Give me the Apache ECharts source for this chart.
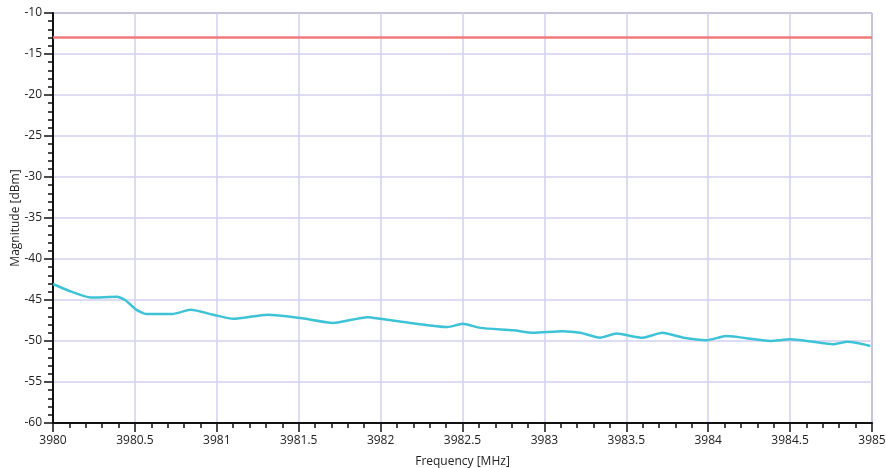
<!DOCTYPE html>
<html><head><meta charset="utf-8">
<script src="https://cdn.jsdelivr.net/npm/echarts@6/dist/echarts.min.js"></script>
<style>html,body{margin:0;padding:0;background:#fff}#c{width:886px;height:468px}</style>
</head><body><div id="c"></div>
<script>
const freqs = [3980.00,3980.10,3980.23,3980.39,3980.44,3980.51,3980.57,3980.73,3980.84,3980.98,3981.10,3981.31,3981.51,3981.71,3981.92,3982.00,3982.18,3982.41,3982.50,3982.61,3982.81,3982.93,3983.11,3983.22,3983.34,3983.44,3983.60,3983.72,3983.85,3983.99,3984.11,3984.38,3984.50,3984.64,3984.76,3984.85,3984.99];
const mags = [-43.05,-43.9,-44.7,-44.6,-45.0,-46.2,-46.7,-46.7,-46.2,-46.8,-47.3,-46.8,-47.2,-47.8,-47.1,-47.3,-47.8,-48.3,-47.9,-48.4,-48.7,-49.0,-48.8,-49.0,-49.6,-49.1,-49.6,-49.0,-49.6,-49.9,-49.4,-50.0,-49.8,-50.1,-50.4,-50.1,-50.6];
const limitFreqs = [3980, 3985];
const limitMags = [-13, -13];
const xTicks = {min: 3980, max: 3985, step: 0.5};
const yTicks = {min: -60, max: -10, step: 5};

const chart = echarts.init(document.getElementById('c'));
const font = 'Open Sans';
chart.setOption({
  animation: false,
  grid: {left: 53, right: 14, top: 13, bottom: 45, show: true, borderColor: '#444', borderWidth: 1,
         containLabel: false, outerBoundsMode: 'none'},
  xAxis: {
    type: 'value', min: xTicks.min, max: xTicks.max, interval: xTicks.step,
    name: 'Frequency [MHz]', nameLocation: 'middle', nameGap: 33, nameMoveOverlap: false,
    nameTextStyle: {fontFamily: font, fontSize: 12, color: '#222'},
    axisLine: {onZero: false, lineStyle: {color: '#111', width: 2}},
    axisTick: {inside: false, length: 9, lineStyle: {color: '#111', width: 1.5}},
    minorTick: {show: true, splitNumber: 5, length: 5, lineStyle: {color: '#111', width: 1.5}},
    axisLabel: {fontFamily: font, fontSize: 12, color: '#222', margin: 12,
      formatter: v => String(Math.round(v*10)/10)},
    splitLine: {show: true, lineStyle: {color: '#d2d0f0', width: 1.5}}
  },
  yAxis: {
    type: 'value', min: yTicks.min, max: yTicks.max, interval: yTicks.step,
    name: 'Magnitude [dBm]', nameLocation: 'middle', nameGap: 31, nameMoveOverlap: false,
    nameTextStyle: {fontFamily: font, fontSize: 12, color: '#222'},
    axisLine: {onZero: false, lineStyle: {color: '#111', width: 2}},
    axisTick: {inside: false, length: 9, lineStyle: {color: '#111', width: 1.5}},
    minorTick: {show: true, splitNumber: 5, length: 5, lineStyle: {color: '#111', width: 1.5}},
    axisLabel: {fontFamily: font, fontSize: 12, color: '#222', margin: 11},
    splitLine: {show: true, lineStyle: {color: '#d2d0f0', width: 1.5}}
  },
  series: [
    {type: 'line', data: limitFreqs.map((f,i)=>[f, limitMags[i]]), showSymbol: false,
     lineStyle: {color: '#f07a7a', width: 2.5}, z: 3},
    {type: 'line', data: freqs.map((f,i)=>[f, mags[i]]), showSymbol: false, smooth: 0.2,
     lineStyle: {color: '#3ec3d6', width: 2.5}, z: 4}
  ]
});
</script></body></html>
